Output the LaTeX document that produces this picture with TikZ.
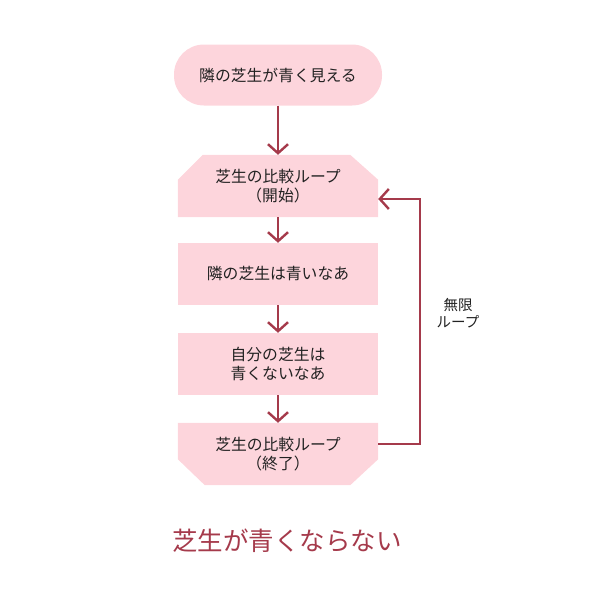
\documentclass[tikz,border=0pt]{standalone}
\usepackage{fontspec}
\setmainfont{Noto Sans CJK JP}
\usetikzlibrary{arrows.meta,calc,backgrounds}
\definecolor{boxfill}{HTML}{FDD5DC}
\definecolor{linered}{HTML}{A53A4B}
\definecolor{txt}{HTML}{222222}
\tikzset{
  flowtext/.style={font=\fontsize{15.8}{19}\selectfont, text=txt, align=center, inner sep=0pt},
  startbox/.style={flowtext, fill=boxfill, rounded corners=30pt, minimum width=208pt, minimum height=61pt},
  procbox/.style={flowtext, fill=boxfill, minimum width=200pt, minimum height=62pt},
  loopbox/.style={flowtext, minimum width=200pt, minimum height=62pt},
  flowarrow/.style={draw=linered, line width=2.4pt, -{Straight Barb[length=9pt,width=20pt]}},
  loopline/.style={draw=linered, line width=2.4pt}
}
\begin{document}
\begin{tikzpicture}[x=1pt,y=-1pt]
\useasboundingbox (0,0) rectangle (600,600);
\node[startbox] (start) at (278,75) {隣の芝生が青く見える};
\node[loopbox] (ls) at (278,186) {芝生の比較ループ\\（開始）};
\node[procbox] (p1) at (278,274) {隣の芝生は青いなあ};
\node[procbox] (p2) at (278,364) {自分の芝生は\\青くないなあ};
\node[loopbox] (le) at (278,454) {芝生の比較ループ\\（終了）};
\begin{scope}[on background layer]
\fill[boxfill] ($(ls.north west)+(0,25)$) -- ($(ls.north west)+(25,0)$) -- ($(ls.north east)+(-28,0)$) -- ($(ls.north east)+(0,25)$) -- (ls.south east) -- (ls.south west) -- cycle;
\fill[boxfill] (le.north west) -- (le.north east) -- ($(le.south east)+(0,-26)$) -- ($(le.south east)+(-28,0)$) -- ($(le.south west)+(27,0)$) -- ($(le.south west)+(0,-26)$) -- cycle;
\end{scope}
\coordinate (rt) at (420,199);
\coordinate (rb) at (420,444);
\draw[flowarrow] (start.south) -- (ls.north);
\draw[flowarrow] (ls.south) -- (p1.north);
\draw[flowarrow] (p1.south) -- (p2.north);
\draw[flowarrow] (p2.south) -- (le.north);
\draw[flowarrow] (le.east |- rb) -- (rb) -- (rt) -- (ls.east |- rt);
\node[flowtext, font=\fontsize{14.5}{17.5}\selectfont] (lbl) at (458,313) {無限\\ループ};
\node[font=\fontsize{25.5}{30}\selectfont, text=linered, inner sep=0pt] (cap) at (287,541) {芝生が青くならない};
\end{tikzpicture}
\end{document}
